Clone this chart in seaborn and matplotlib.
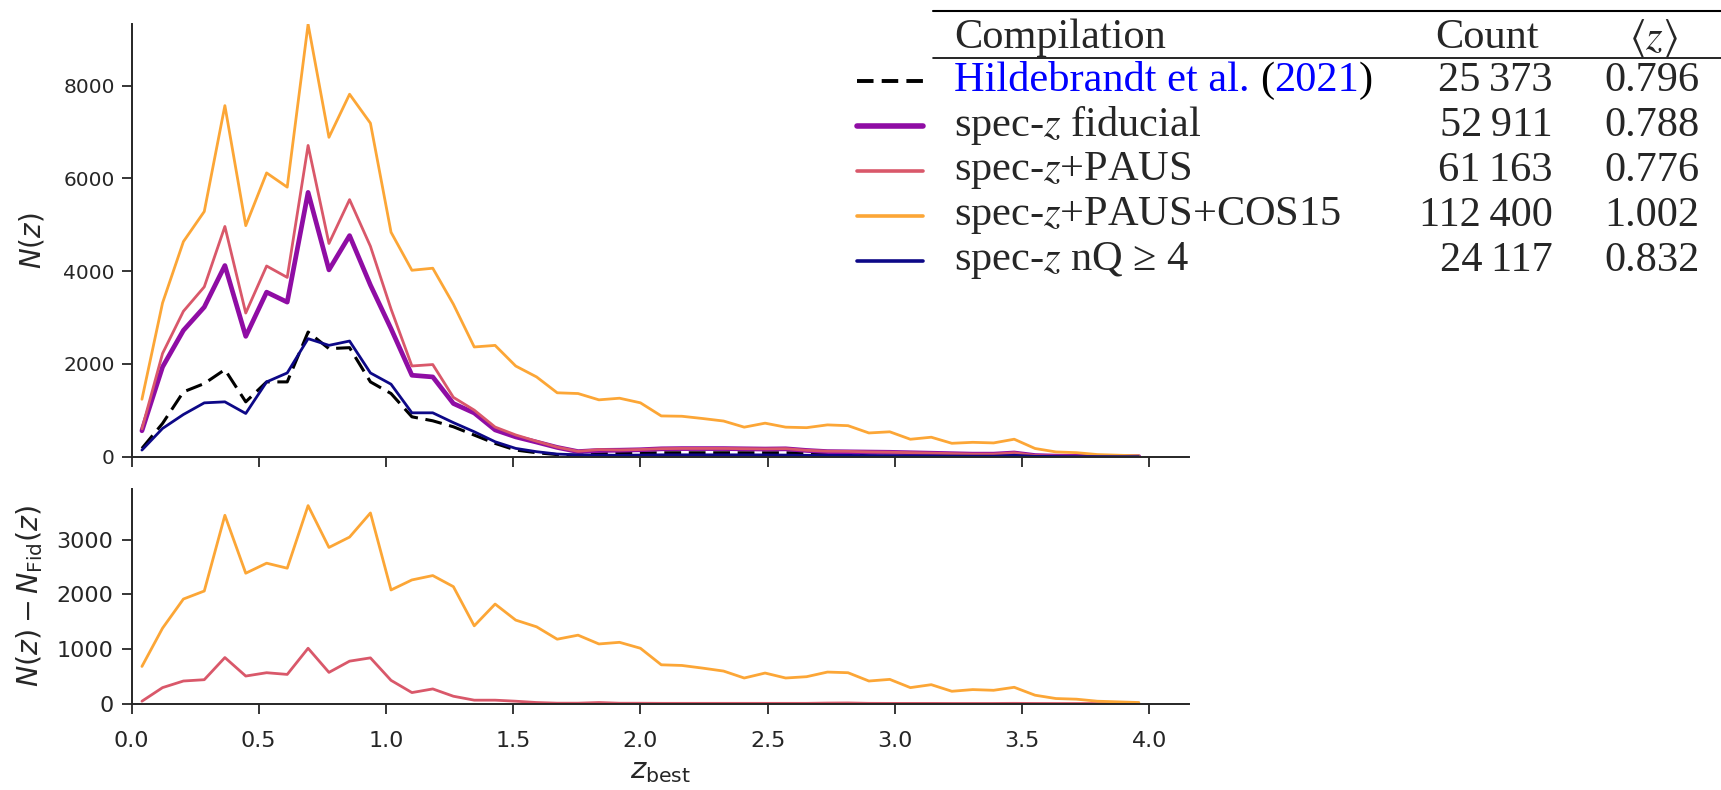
import matplotlib
matplotlib.use("Agg")
import matplotlib.pyplot as plt
from matplotlib.lines import Line2D
import seaborn as sns

# bin centres of z_best (49 bins between 0 and 4)
z_best = [0.041, 0.122, 0.204, 0.286, 0.367, 0.449, 0.531, 0.612, 0.694, 0.776,
          0.857, 0.939, 1.020, 1.102, 1.184, 1.265, 1.347, 1.429, 1.510, 1.592,
          1.673, 1.755, 1.837, 1.918, 2.000, 2.082, 2.163, 2.245, 2.327, 2.408,
          2.490, 2.571, 2.653, 2.735, 2.816, 2.898, 2.980, 3.061, 3.143, 3.224,
          3.306, 3.388, 3.469, 3.551, 3.633, 3.714, 3.796, 3.878, 3.959]

n_hildebrandt = [179, 717, 1398, 1577, 1878, 1183, 1613, 1613, 2688, 2330,
                 2351, 1613, 1362, 860, 774, 645, 466, 287, 143, 86,
                 45, 30, 60, 75, 80, 85, 85, 85, 85, 85,
                 85, 85, 80, 75, 60, 10, 5, 3, 2, 1,
                 1, 0, 0, 0, 0, 0, 0, 0, 0]
n_fiducial = [559, 1935, 2724, 3226, 4122, 2595, 3548, 3333, 5699, 4028,
              4767, 3700, 2760, 1756, 1720, 1147, 943, 578, 427, 315,
              200, 110, 135, 140, 150, 170, 175, 175, 175, 170,
              165, 170, 135, 110, 105, 100, 95, 85, 75, 65,
              55, 55, 80, 25, 12, 8, 4, 2, 1]
n_paus = [601, 2226, 3136, 3662, 4964, 3098, 4112, 3866, 6711, 4598,
          5543, 4536, 3184, 1956, 1987, 1280, 1004, 639, 469, 333,
          206, 116, 153, 145, 155, 173, 178, 178, 178, 173,
          168, 173, 138, 118, 115, 103, 97, 87, 77, 66,
          56, 56, 83, 26, 12, 8, 4, 2, 1]
n_cos15 = [1238, 3315, 4638, 5287, 7570, 4982, 6119, 5812, 9325, 6887,
           7816, 7191, 4840, 4020, 4064, 3288, 2366, 2400, 1955, 1720,
           1378, 1362, 1226, 1261, 1162, 879, 872, 823, 769, 637,
           723, 637, 626, 686, 669, 512, 537, 376, 420, 289,
           310, 297, 377, 177, 103, 87, 46, 32, 19]
n_nq4 = [143, 609, 910, 1161, 1183, 932, 1613, 1806, 2545, 2401,
         2494, 1806, 1563, 946, 946, 735, 538, 322, 179, 108,
         57, 40, 35, 30, 35, 40, 40, 40, 40, 40,
         38, 35, 30, 30, 28, 25, 22, 20, 18, 15,
         12, 12, 30, 8, 5, 3, 2, 1, 1]

labels = ["Hildebrandt et al. (2021)", "spec-$z$ fiducial", "spec-$z$+PAUS",
          "spec-$z$+PAUS+COS15", "spec-$z$ nQ \u2265 4"]
counts = ["25\u2009373", "52\u2009911", "61\u2009163", "112\u2009400", "24\u2009117"]
mean_z = ["0.796", "0.788", "0.776", "1.002", "0.832"]

sns.set_theme(style="ticks")
plt.rcParams['font.family'] = ['DejaVu Sans']
plt.rcParams['axes.linewidth'] = 1.4
plt.rcParams['xtick.major.size'] = 7
plt.rcParams['ytick.major.size'] = 7
plt.rcParams['xtick.major.width'] = 1.3
plt.rcParams['ytick.major.width'] = 1.3

cmap = plt.get_cmap("plasma")
c_fid = cmap(0.3)
c_paus = cmap(0.56)
c_cos = cmap(0.8)
c_nq = cmap(0.0)

W, H = 1721, 790
fig = plt.figure(figsize=(W / 100, H / 100), dpi=100)
ax1 = fig.add_axes([131.5 / W, 1 - 456.7 / H, (1189 - 131.5) / W, (456.7 - 24) / H])
ax2 = fig.add_axes([131.5 / W, 1 - 703.5 / H, (1189 - 131.5) / W, (703.5 - 489) / H], sharex=ax1)

styles = [
    (n_hildebrandt, "black", 2.2, (0, (5.5, 2.5))),
    (n_fiducial, c_fid, 3.4, "-"),
    (n_paus, c_paus, 2.0, "-"),
    (n_cos15, c_cos, 2.0, "-"),
    (n_nq4, c_nq, 2.0, "-"),
]
for vals, col, lw, ls in styles:
    sns.lineplot(x=z_best, y=vals, ax=ax1, color=col, lw=lw, linestyle=ls)

# difference w.r.t. the fiducial compilation
diff_paus = [p - f for p, f in zip(n_paus, n_fiducial)]
diff_cos = [c - f for c, f in zip(n_cos15, n_fiducial)]
sns.lineplot(x=z_best, y=diff_paus, ax=ax2, color=c_paus, lw=2.0)
sns.lineplot(x=z_best, y=diff_cos, ax=ax2, color=c_cos, lw=2.0)

ax1.set_xlim(0, 4.156)
ax1.set_ylim(0, 9330)
ax2.set_ylim(0, 3930)
ax1.set_yticks([0, 2000, 4000, 6000, 8000])
ax2.set_yticks([0, 1000, 2000, 3000])
ax2.set_xticks([0.0, 0.5, 1.0, 1.5, 2.0, 2.5, 3.0, 3.5, 4.0])
ax1.tick_params(axis="x", labelbottom=False)
ax1.tick_params(axis="y", labelsize=14.5, pad=5)
ax2.tick_params(axis="y", labelsize=16, pad=6)
ax2.tick_params(axis="x", labelsize=16, pad=13)
ax1.set_ylabel("$N(z)$", fontsize=20, labelpad=12)
ax2.set_ylabel(r"$N(z) - N_{\rm Fid}(z)$", fontsize=20.5, labelpad=8)
ax2.set_xlabel(r"$z_{\rm best}$", fontsize=21, labelpad=4)
sns.despine(fig=fig)

# table with legend handles on the right
def fx(px):
    return px / W

def fy(py):
    return 1 - py / H

serif = dict(fontfamily="Liberation Serif", fontsize=30.5, math_fontfamily="stix")
fig.add_artist(Line2D([fx(933), 1.0], [fy(11), fy(11)], color="black", lw=1.5))
fig.add_artist(Line2D([fx(933), 1.0], [fy(58), fy(58)], color="black", lw=1.2))
fig.text(fx(954), fy(38), "Compilation", va="center", ha="left", **serif)
fig.text(fx(1487), fy(38), "Count", va="center", ha="center", **serif)
fig.text(fx(1654), fy(38), r"$\langle z\rangle$", va="center", ha="center", **serif)

row_y = [81, 125.5, 170.5, 215.5, 260.5]
for i, yy in enumerate(row_y):
    vals, col, lw, ls = styles[i]
    if i == 0:
        ls = (0, (4.25, 2.1))
    fig.add_artist(Line2D([fx(857), fx(923)], [fy(yy), fy(yy)], color=col,
                          lw=lw + 0.6, linestyle=ls))
    if i == 0:
        t = fig.text(fx(954), fy(yy), "Hildebrandt et al. ", va="center", ha="left",
                     color="#0000ff", **serif)
        for piece, pc in [("(", "black"), ("2021", "#0000ff"), (")", "black")]:
            t = plt.annotate(piece, xy=(1, 0), xycoords=t, va="bottom", ha="left",
                             color=pc, annotation_clip=False, **serif)
    else:
        fig.text(fx(954), fy(yy), labels[i], va="center", ha="left", **serif)
    fig.text(fx(1553), fy(yy), counts[i], va="center", ha="right", **serif)
    fig.text(fx(1652), fy(yy), mean_z[i], va="center", ha="center", **serif)

fig.savefig("out.png", dpi=100)
